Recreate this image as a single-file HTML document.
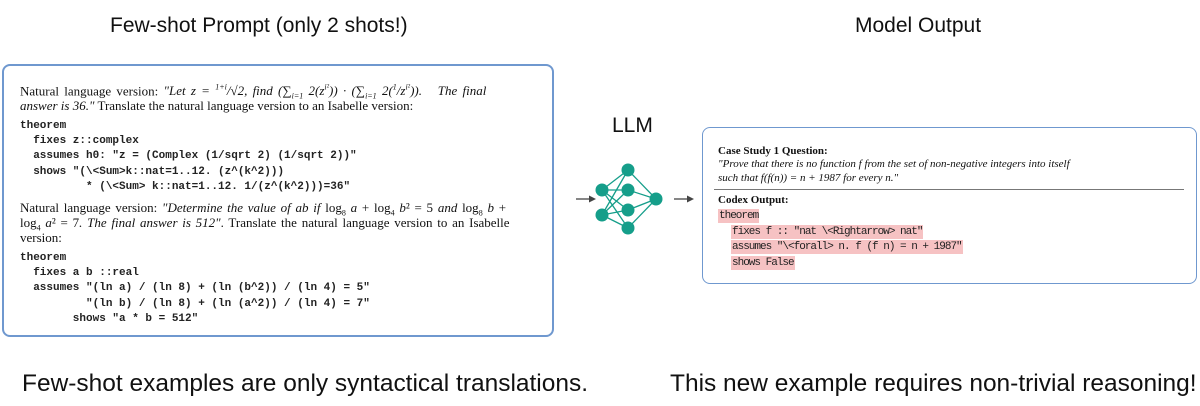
<!DOCTYPE html>
<html><head><meta charset="utf-8"><style>
body{margin:0;width:1200px;height:406px;background:#fff;position:relative;overflow:hidden;font-family:"Liberation Sans",sans-serif;color:#111}
.a{position:absolute;white-space:nowrap}
.t{font-size:21px}
.box{position:absolute;border:2px solid #6f98cf;border-radius:8px;box-sizing:border-box}
.s{font-family:"Liberation Serif",serif;font-size:13px;line-height:15px}
.m{font-family:"Liberation Mono",monospace;font-size:11px;line-height:15.2px;white-space:pre;font-weight:bold;color:#222}
.r{font-family:"Liberation Serif",serif;font-size:11px;line-height:15px}
.c{font-family:"Liberation Mono",monospace;font-size:11px;letter-spacing:-1px;line-height:14px;color:#222}
.hl{background:#f6c2c3;padding:1px 1px}
i{font-style:italic}
</style></head><body>
<div class="a t" style="left:110px;top:14px">Few-shot Prompt (only 2 shots!)</div>
<div class="a t" style="left:855px;top:14px">Model Output</div>
<div class="a t" style="left:612px;top:114px">LLM</div>
<div class="a" style="left:22px;top:370px;font-size:24px;transform:scaleX(1.02);transform-origin:left">Few-shot examples are only syntactical translations.</div>
<div class="a" style="left:670px;top:370px;font-size:24px;transform:scaleX(1.02);transform-origin:left">This new example requires non-trivial reasoning!</div>

<div class="box" style="left:2px;top:64px;width:552px;height:273px"></div>
<div class="a s" style="left:20px;top:80px;word-spacing:2px">Natural language version: <i>"Let z = <sup style="font-size:8px">1+i</sup>/√2, find (∑<sub style="font-size:8px">i=1</sub> 2(z<sup style="font-size:8px">i²</sup>)) · (∑<sub style="font-size:8px">i=1</sub> 2(<sup style="font-size:8px">1</sup>/z<sup style="font-size:8px">i²</sup>)).&nbsp;&nbsp; The final</i></div>
<div class="a s" style="left:20px;top:98px"><i>answer is 36."</i> Translate the natural language version to an Isabelle version:</div>
<div class="a m" style="left:20px;top:119px">theorem
  fixes z::complex
  assumes h0: "z = (Complex (1/sqrt 2) (1/sqrt 2))"
  shows "(\&lt;Sum&gt;k::nat=1..12. (z^(k^2)))
          * (\&lt;Sum&gt; k::nat=1..12. 1/(z^(k^2)))=36"</div>
<div class="a s" style="left:20px;top:200px;word-spacing:1.5px">Natural language version: <i>"Determine the value of ab if</i> log<sub style="font-size:8px">8</sub> <i>a</i> + log<sub style="font-size:8px">4</sub> <i>b</i>² = 5 <i>and</i> log<sub style="font-size:8px">8</sub> <i>b</i> +</div>
<div class="a s" style="left:20px;top:215px;word-spacing:1.5px">log<sub style="font-size:8px">4</sub> <i>a</i>² = 7<i>. The final answer is 512"</i>. Translate the natural language version to an Isabelle</div>
<div class="a s" style="left:20px;top:230px">version:</div>
<div class="a m" style="left:20px;top:251px">theorem
  fixes a b ::real
  assumes "(ln a) / (ln 8) + (ln (b^2)) / (ln 4) = 5"
          "(ln b) / (ln 8) + (ln (a^2)) / (ln 4) = 7"
        shows "a * b = 512"</div>

<svg class="a" style="left:560px;top:150px" width="145" height="100" viewBox="560 150 145 100">
<g stroke="#159e8a" stroke-width="1.3">
<line x1="576" y1="199" x2="591" y2="199" stroke="#444"/>
<line x1="674" y1="199" x2="689" y2="199" stroke="#444"/>
<g>
<line x1="602" y1="190" x2="628" y2="170"/><line x1="602" y1="190" x2="628" y2="190"/><line x1="602" y1="190" x2="628" y2="210"/><line x1="602" y1="190" x2="628" y2="228"/>
<line x1="602" y1="215" x2="628" y2="170"/><line x1="602" y1="215" x2="628" y2="190"/><line x1="602" y1="215" x2="628" y2="210"/><line x1="602" y1="215" x2="628" y2="228"/>
<line x1="656" y1="199" x2="628" y2="170"/><line x1="656" y1="199" x2="628" y2="190"/><line x1="656" y1="199" x2="628" y2="210"/><line x1="656" y1="199" x2="628" y2="228"/>
</g></g>
<polygon points="596,199 589,195.5 589,202.5" fill="#444"/>
<polygon points="694,199 687,195.5 687,202.5" fill="#444"/>
<g fill="#159e8a">
<circle cx="602" cy="190" r="6.5"/><circle cx="602" cy="215" r="6.5"/>
<circle cx="628" cy="170" r="6.5"/><circle cx="628" cy="190" r="6.5"/><circle cx="628" cy="210" r="6.5"/><circle cx="628" cy="228" r="6.5"/>
<circle cx="656" cy="199" r="6.5"/>
</g></svg>

<div class="box" style="left:702px;top:127px;width:495px;height:157px;border-width:1.5px"></div>
<div class="a r" style="left:718px;top:144px"><b>Case Study 1 Question:</b></div>
<div class="a r" style="left:718px;top:157px"><i>"Prove that there is no function f from the set of non-negative integers into itself</i></div>
<div class="a r" style="left:718px;top:171px"><i>such that f(f(n)) = n + 1987 for every n."</i></div>
<div class="a" style="left:714px;top:189px;width:470px;height:1px;background:#777"></div>
<div class="a r" style="left:718px;top:193px"><b>Codex Output:</b></div>
<div class="a c" style="left:718px;top:209px"><span class="hl">theorem</span></div>
<div class="a c" style="left:731px;top:225px"><span class="hl">fixes f :: "nat \&lt;Rightarrow&gt; nat"</span></div>
<div class="a c" style="left:731px;top:240px"><span class="hl">assumes "\&lt;forall&gt; n. f (f n) = n + 1987"</span></div>
<div class="a c" style="left:731px;top:256px"><span class="hl">shows False</span></div>
</body></html>
